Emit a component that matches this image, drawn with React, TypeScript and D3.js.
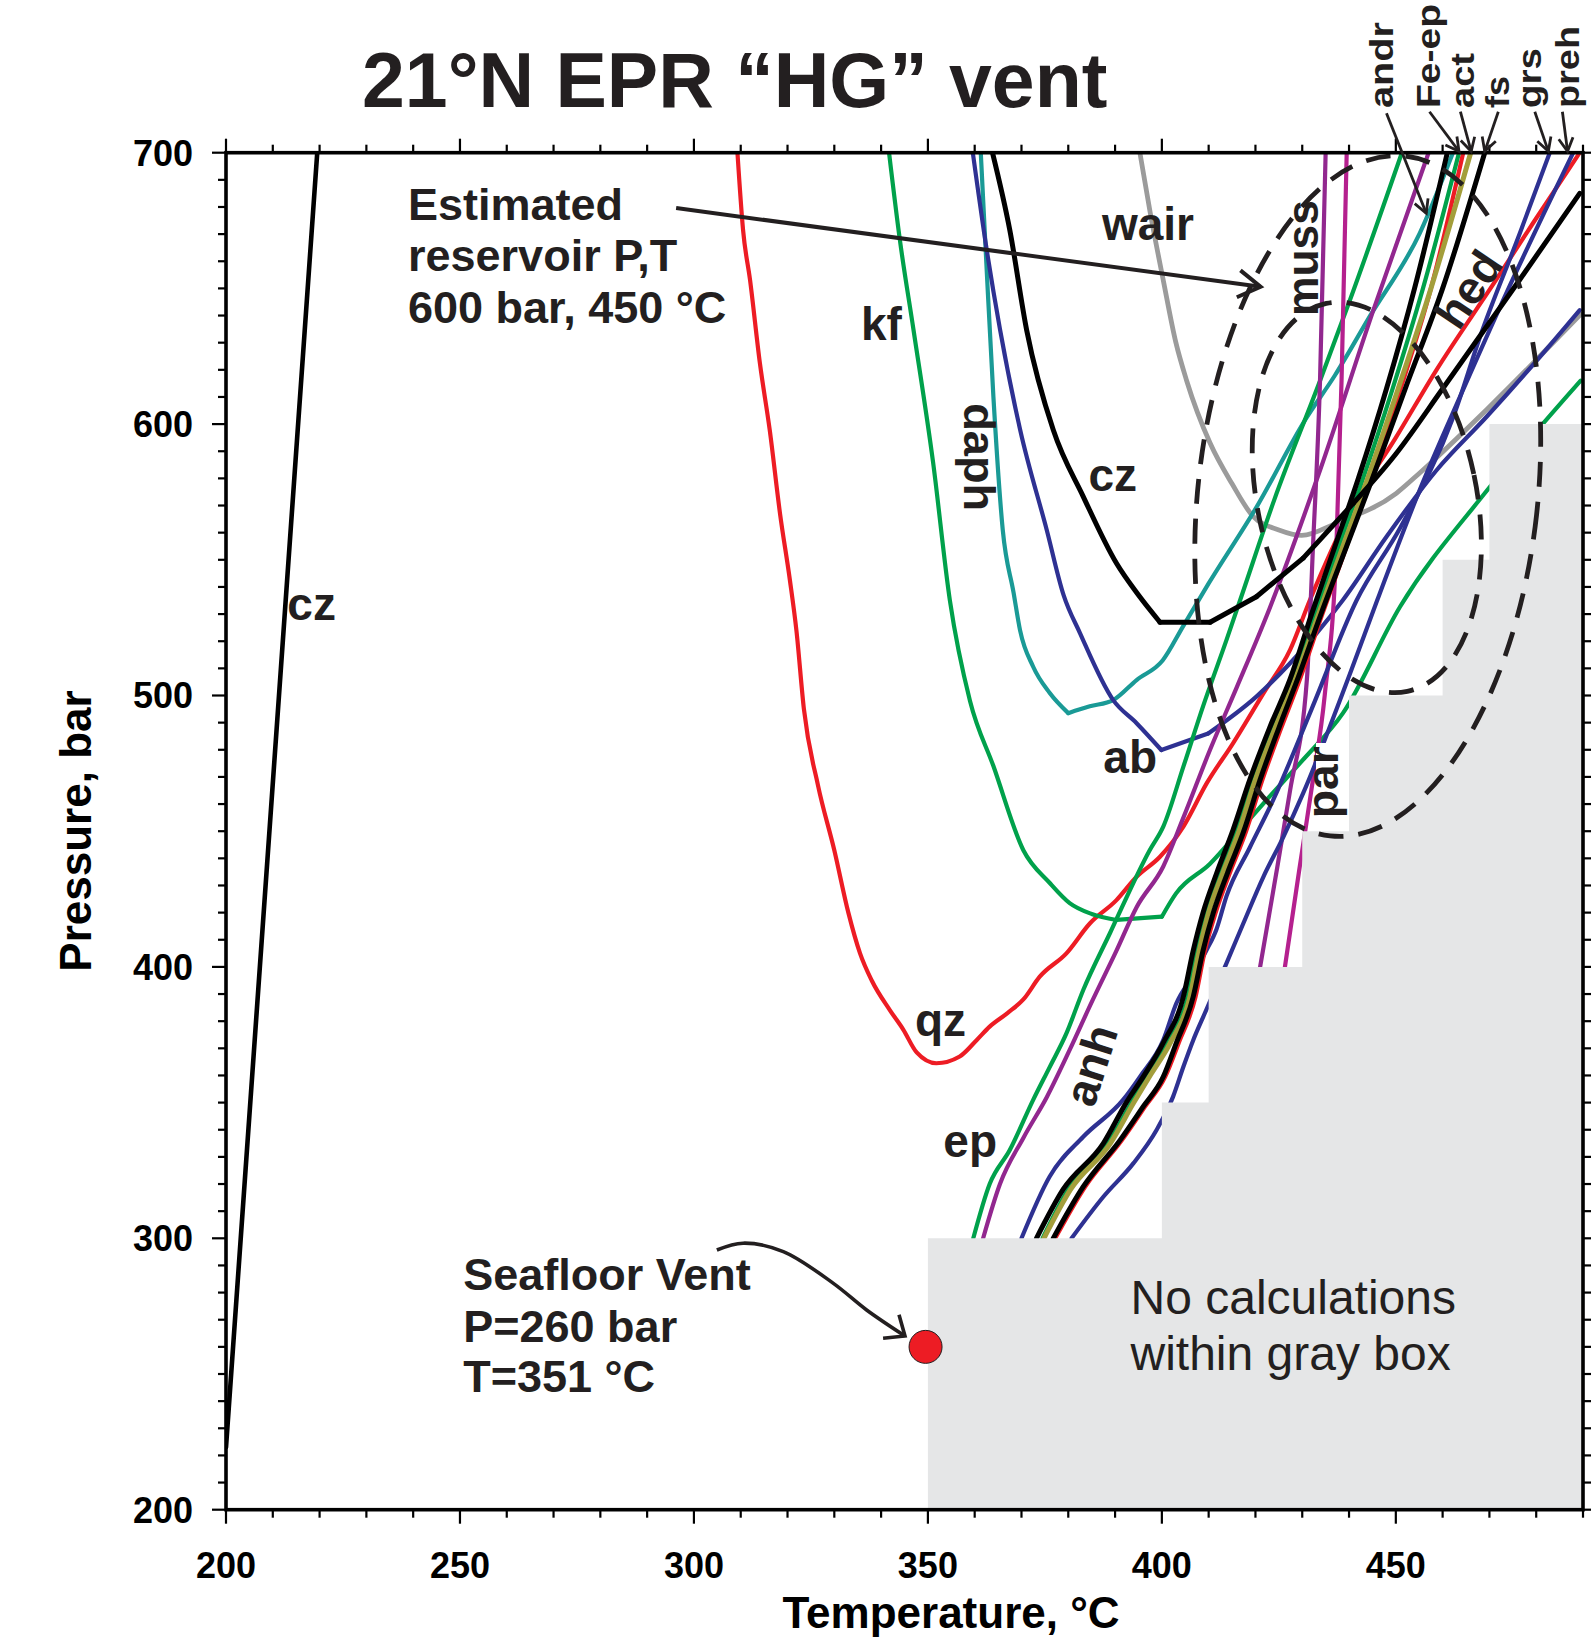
import React from "react";
import * as d3 from "d3";

type Pt = [number, number]; // [temperature °C, pressure bar]

// ---------------- axes ----------------
const T_DOMAIN: [number, number] = [200, 490];
const P_DOMAIN: [number, number] = [200, 700];
const xTickLabels = [200, 250, 300, 350, 400, 450];
const yTickLabels = [200, 300, 400, 500, 600, 700];

// ---------------- curves ----------------
const czLeft: Pt[] = [[200, 223], [219.5, 700]];

const qz: Pt[] = [
  [309.3, 700], [310.5, 671.5], [312, 653], [314.1, 622.4], [316.2, 597.8], [318.4, 567], [320.5, 542.6],
  [321.9, 524], [323.5, 495], [326.5, 467], [330, 443], [333, 420], [335.5, 405], [338, 395], [341.9, 384],
  [344.7, 377], [347.6, 368.5], [351.8, 364.5], [356.8, 367], [360.4, 373], [363.2, 378], [367, 383],
  [370.4, 388], [373.9, 396.4], [379.6, 405], [384.6, 416], [390.3, 424.6], [394.6, 433.2], [399.6, 440.6],
  [404.6, 451.7], [409.6, 467.7], [415.2, 482.4], [421.7, 500.8], [427.4, 516.8], [431.6, 535], [440.8, 569.6],
  [450, 595], [458.7, 620], [471, 652], [479.3, 674], [489.3, 700],
];

const kf: Pt[] = [
  [341.7, 700], [344, 668], [346.9, 635], [351.1, 586], [354.7, 535], [359, 498], [364, 474], [370.4, 443],
  [376, 431], [380.3, 423.5], [385, 419.5], [390.3, 417.3], [400, 418.5], [403, 427], [410.3, 438],
  [416.7, 450.4], [423, 462.7], [430, 476], [438.7, 493.5], [450.9, 532.7], [469, 574.5], [489.5, 616],
];

const daph: Pt[] = [
  [361.3, 700], [362.5, 659], [364, 610], [366, 561], [368.3, 538], [369.7, 524], [372.5, 510.6], [376, 501],
  [380, 493.5], [384.6, 496], [389.6, 498.3], [394.6, 505.7], [400.2, 513], [404.5, 525.4], [410, 541.3],
  [420.3, 569.6], [430.6, 601.5], [437, 618], [444.4, 639.6], [455.1, 670.3], [462.2, 700],
];

const ab: Pt[] = [
  [359.6, 700], [362.5, 665], [365.4, 635], [369.7, 598], [375.4, 561], [379, 537], [382.5, 523], [389.6, 498.3],
  [394.6, 489.8], [399.9, 479.9], [409.9, 486], [420.2, 499.6], [427.4, 511.9], [433.1, 523], [438.7, 535.2],
  [448, 558.5], [458.7, 583], [469.4, 602.7], [480.8, 624.8], [489.3, 642],
];

const czMid: Pt[] = [
  [363.8, 700], [367.5, 671.5], [371.1, 634.7], [376.8, 597.8], [383.2, 573.3], [390.3, 548.7], [395, 537],
  [399.6, 527], [410.3, 527], [420.2, 536.4], [430.2, 550.6], [440.9, 570.8], [450, 589], [460, 613],
  [476.4, 653], [489.3, 685],
];

const wair: Pt[] = [
  [395.3, 700], [397.5, 678], [400.3, 653], [403, 630], [405.3, 616], [410.3, 593], [415, 578], [419.5, 566],
  [425, 561], [429.9, 559], [437.3, 563.5], [450.1, 574.5], [455.1, 582], [469.5, 605.5], [489.5, 640.5],
];

const muss: Pt[] = [[421, 400], [424, 430], [427.4, 465], [431, 506], [432.3, 555], [433.8, 616], [435, 700]];
const par: Pt[] = [[426.3, 400], [429.3, 435], [432.2, 468], [434.8, 500], [437.3, 555], [438.4, 616], [439.5, 700]];

const anh: Pt[] = [
  [361.8, 300], [365.4, 320], [370.4, 337], [375.4, 352], [380.3, 369.4], [385, 387], [390.3, 406],
  [394.6, 422], [400.3, 437], [404.6, 455], [410.3, 480], [416, 503], [423, 532], [433.8, 583], [445, 641],
  [457, 700],
];

const ep: Pt[] = [
  [359.7, 300], [363.2, 320], [367.5, 332.5], [372.5, 351], [376, 363], [379.6, 375.5], [383.2, 391.5],
  [388.9, 412.4], [397.4, 443], [400.3, 451.7], [404.6, 473.8], [408.8, 496], [413.8, 520.4], [416.7, 535],
  [424, 572], [433.8, 616], [440.2, 645.7], [451.3, 700],
];

const andr: Pt[] = [
  [373.2, 300], [378.9, 318], [387.5, 335], [392.4, 350], [396, 359.5], [400.3, 372], [404.6, 389],
  [406.7, 406], [408.8, 420], [411.7, 434.5], [415.2, 450.4], [418.8, 469], [423, 488], [427.4, 506],
  [432, 530], [437, 555], [442, 580], [448, 613], [454, 650], [461, 700],
];

const feEp: Pt[] = [
  [374.5, 300], [380, 318], [388.5, 335], [393.5, 350], [397, 360], [401.3, 372], [405.5, 389], [407.5, 406],
  [409.5, 420], [412.5, 434.5], [416, 450], [419.6, 469], [423.8, 488], [428, 506], [432.8, 530],
  [437.8, 555], [443, 580], [449.3, 613], [455.8, 650], [463.5, 700],
];

const act: Pt[] = [
  [374.8, 300], [380.5, 318], [389, 335], [394, 350], [397.5, 360], [401.8, 372], [406, 389], [408, 406],
  [410, 420], [413, 434.5], [416.5, 450], [420, 469], [424.2, 488], [428.5, 506], [433.5, 530], [438.7, 555],
  [444, 580], [450.5, 613], [457.5, 650], [466, 700],
];

const fs: Pt[] = [
  [376.8, 300], [383.2, 319], [391, 336], [396, 348.5], [400.3, 359.5], [403.1, 372], [406.7, 389],
  [408.8, 406], [411, 420], [414, 434.5], [417.5, 450], [421, 469], [425, 488], [429, 506], [434, 530],
  [439.5, 555], [445, 580], [452, 613], [460, 650], [469, 700],
];

const redSteep: Pt[] = [
  [377.2, 300], [383.6, 319], [391.4, 336], [396.4, 348.5], [400.7, 359.5], [403.6, 372], [407.2, 389],
  [409.2, 406], [411.5, 420], [414.5, 434.5], [418, 450], [421.5, 469], [425.5, 488], [429.5, 506],
  [434.3, 530], [439.5, 555], [444.5, 580], [451, 613], [457.5, 650], [464.4, 700],
];

const grs: Pt[] = [
  [370, 300], [376, 322.7], [383.2, 337.4], [391.7, 351], [395.3, 359.5], [400.3, 373], [403.1, 386.6],
  [406.7, 397], [409.5, 406], [411.7, 414], [413.8, 426], [418.8, 444], [423.8, 461.5], [432, 495],
  [441.6, 535], [451, 562], [462.3, 602.7], [468, 632.2], [476.5, 670.3], [482.9, 700],
];

const preh: Pt[] = [
  [380.7, 300], [387.5, 315.3], [393.9, 327.6], [398.9, 340], [402.4, 352.2], [404.6, 363.2], [406.7, 373],
  [409.2, 383], [413.8, 401.3], [417.4, 416], [421.7, 433.2], [426, 448], [430.2, 464], [440.2, 508],
  [446, 535], [455.1, 575.7], [463.7, 610], [473.6, 648.2], [487.9, 700],
];

// gray "no calculation" region: [T where step starts, top pressure]
const grayBoxSteps: Pt[] = [[350, 300], [400, 350], [410, 400], [430, 450], [440, 500], [460, 550], [470, 600]];
const grayBoxEndT = 490;
const grayBoxBottomP = 200;

const ventPoint: Pt = [349.5, 260];

// dashed ellipses: centre (T,P), semi-axes (°C, bar)
const ellipseBig = { t: 444, p: 573.5, rt: 36.3, rp: 126 };
const ellipseSmall = { t: 443.8, p: 573, rt: 23.4, rp: 73 };

// top labels with arrow: label, tail (T,P), tip (T,P)
const topLabels: { name: string; tail: Pt; tip: Pt }[] = [
  { name: "andr", tail: [448.0, 714.5], tip: [456.5, 677.7] },
  { name: "Fe-ep", tail: [457.2, 715.1], tip: [463.5, 700.5] },
  { name: "act", tail: [463.8, 715.1], tip: [466.1, 700.5] },
  { name: "fs", tail: [471.9, 715.1], tip: [469.0, 700.5] },
  { name: "grs", tail: [479.7, 715.1], tip: [482.6, 700.5] },
  { name: "preh", tail: [485.6, 715.1], tip: [486.7, 700.5] },
];

const reservoirArrow: Pt[] = [[296.2, 679.6], [421.1, 650.6]];
const ventArrow: Pt[] = [[304.9, 295.7], [310.5, 298.2], [319.1, 295.1], [329.8, 283.4], [336.9, 273.6], [345.1, 264.0]];

// ---------------- styles ----------------
const RED = "#ED1C24";
const GREEN = "#00A14B";
const NAVY = "#2E3192";
const TEAL = "#1A9A96";
const PURPLE = "#92278F";
const MAGENTA = "#B5208E";
const OLIVE = "#A39E3B";
const GRAY = "#9B9B9B";
const BLACK = "#000000";
const INK = "#231F20";
const FONT = "'Liberation Sans', Arial, Helvetica, sans-serif";

const series: { data: Pt[]; color: string; width: number; corners: number[] }[] = [
  { data: wair, color: GRAY, width: 4.8, corners: [] },
  { data: qz, color: RED, width: 4.2, corners: [] },
  { data: kf, color: GREEN, width: 4.2, corners: [11, 12] },
  { data: daph, color: TEAL, width: 4.2, corners: [8] },
  { data: ab, color: NAVY, width: 4.2, corners: [9, 10] },
  { data: ep, color: GREEN, width: 4.2, corners: [] },
  { data: anh, color: PURPLE, width: 4.2, corners: [] },
  { data: muss, color: PURPLE, width: 4.2, corners: [] },
  { data: par, color: MAGENTA, width: 4.2, corners: [] },
  { data: grs, color: NAVY, width: 4.2, corners: [] },
  { data: preh, color: NAVY, width: 4.2, corners: [] },
  { data: redSteep, color: RED, width: 4.2, corners: [] },
  { data: feEp, color: GREEN, width: 4.2, corners: [] },
  { data: act, color: OLIVE, width: 5, corners: [] },
  { data: andr, color: BLACK, width: 5, corners: [] },
  { data: fs, color: BLACK, width: 5, corners: [] },
  { data: czMid, color: BLACK, width: 5, corners: [7, 8, 9, 10, 11] },
  { data: czLeft, color: BLACK, width: 4.6, corners: [] },
];

function splitAtCorners(data: Pt[], corners: number[]): Pt[][] {
  const segs: Pt[][] = [];
  let start = 0;
  [...corners, data.length - 1].forEach((c) => {
    segs.push(data.slice(start, c + 1));
    start = c;
  });
  return segs.filter((s) => s.length > 1);
}

function arrowHead(tip: [number, number], from: [number, number], len: number, half: number) {
  const a = Math.atan2(tip[1] - from[1], tip[0] - from[0]);
  const p1 = [tip[0] - len * Math.cos(a - half), tip[1] - len * Math.sin(a - half)];
  const p2 = [tip[0] - len * Math.cos(a + half), tip[1] - len * Math.sin(a + half)];
  return `M${p1[0]},${p1[1]}L${tip[0]},${tip[1]}L${p2[0]},${p2[1]}`;
}

export default function App() {
  const W = 1591;
  const H = 1638;
  const x = d3.scaleLinear().domain(T_DOMAIN).range([226, 1583]);
  const y = d3.scaleLinear().domain(P_DOMAIN).range([1509.7, 152.7]);
  const x0 = x(T_DOMAIN[0]);
  const x1 = x(T_DOMAIN[1]);
  const y0 = y(P_DOMAIN[0]);
  const y1 = y(P_DOMAIN[1]);

  const lin = d3.line<Pt>().x((d) => x(d[0])).y((d) => y(d[1]));
  const mono = d3
    .line<Pt>()
    .x((d) => x(d[0]))
    .y((d) => y(d[1]))
    .curve(d3.curveMonotoneX);
  const smooth = d3
    .line<Pt>()
    .x((d) => x(d[0]))
    .y((d) => y(d[1]))
    .curve(d3.curveCatmullRom.alpha(0.5));

  // gray box outline
  const boxPts: Pt[] = [[grayBoxSteps[0][0], grayBoxBottomP]];
  grayBoxSteps.forEach((s, i) => {
    boxPts.push([s[0], s[1]]);
    const nextT = i < grayBoxSteps.length - 1 ? grayBoxSteps[i + 1][0] : grayBoxEndT;
    boxPts.push([nextT, s[1]]);
  });
  boxPts.push([grayBoxEndT, grayBoxBottomP]);
  const boxPath = lin(boxPts) + "Z";

  const xTicks = d3.range(T_DOMAIN[0], T_DOMAIN[1] + 0.1, 10);
  const yTicks = d3.range(P_DOMAIN[0], P_DOMAIN[1] + 0.1, 10);

  const ell = (e: { t: number; p: number; rt: number; rp: number }, angle: number) => {
    const cx = x(e.t);
    const cy = y(e.p);
    const rx = x(e.t + e.rt) - cx;
    const ry = cy - y(e.p + e.rp);
    return (
      <ellipse
        cx={cx}
        cy={cy}
        rx={rx}
        ry={ry}
        transform={`rotate(${angle} ${cx} ${cy})`}
        fill="none"
        stroke={INK}
        strokeWidth={4.8}
        strokeDasharray="25 15"
      />
    );
  };

  const boldLabel = (txt: string, t: number, p: number, size = 46) => (
    <text x={x(t)} y={y(p)} fontFamily={FONT} fontWeight="bold" fontSize={size} fill={INK}>
      {txt}
    </text>
  );

  const rotLabel = (txt: string, t: number, p: number, angle: number, dy: number, size = 45, len?: number) => (
    <text
      transform={`translate(${x(t)},${y(p)}) rotate(${angle})`}
      textAnchor="middle"
      dy={`${dy}em`}
      fontFamily={FONT}
      fontWeight="bold"
      fontSize={size}
      fill={INK}
      textLength={len}
      lengthAdjust={len ? "spacingAndGlyphs" : undefined}
    >
      {txt}
    </text>
  );

  const topLabelLen: Record<string, number> = { andr: 86, "Fe-ep": 104, act: 55, fs: 32, grs: 60, preh: 82 };
  const topLabelBase: Record<string, number> = { andr: 1393, "Fe-ep": 1440, act: 1474, fs: 1509, grs: 1541, preh: 1579 };

  const ventTip: [number, number] = [x(ventArrow[ventArrow.length - 1][0]), y(ventArrow[ventArrow.length - 1][1])];
  const ventPrev: [number, number] = [x(ventArrow[ventArrow.length - 2][0]), y(ventArrow[ventArrow.length - 2][1])];
  const resTip: [number, number] = [x(reservoirArrow[1][0]), y(reservoirArrow[1][1])];
  const resTail: [number, number] = [x(reservoirArrow[0][0]), y(reservoirArrow[0][1])];

  return (
    <svg
      width={W}
      height={H}
      viewBox={`0 0 ${W} ${H}`}
      style={{ position: "absolute", left: 0, top: 0, background: "#fff" }}
    >
      <defs>
        <clipPath id="plotClip">
          <rect x={x0} y={y1} width={x1 - x0} height={y0 - y1} />
        </clipPath>
      </defs>
      <rect x={0} y={0} width={W} height={H} fill="#fff" />

      {/* title */}
      <text x={362} y={106.5} fontFamily={FONT} fontWeight="bold" fontSize={77} fill={INK}>
        21°N EPR “HG” vent
      </text>

      {/* curves */}
      <g clipPath="url(#plotClip)" fill="none" strokeLinejoin="round" strokeLinecap="round">
        {series.map((s, i) =>
          splitAtCorners(s.data, s.corners).map((seg, j) => (
            <path key={i + "-" + j} d={mono(seg) || ""} stroke={s.color} strokeWidth={s.width} />
          ))
        )}
      </g>

      {/* gray box */}
      <path d={boxPath} fill="#E5E6E7" stroke="none" />

      {/* ellipses */}
      <g clipPath="url(#plotClip)">
        {ell(ellipseBig, 6.3)}
        {ell(ellipseSmall, -11.8)}
      </g>

      {/* axes frame and ticks */}
      <rect x={x0} y={y1} width={x1 - x0} height={y0 - y1} fill="none" stroke={BLACK} strokeWidth={3.6} />
      <g stroke={BLACK} strokeWidth={2.2}>
        {xTicks.map((t) => {
          const major = t % 50 === 0;
          const L = major ? 14 : 8;
          return (
            <g key={"xt" + t}>
              <line x1={x(t)} x2={x(t)} y1={y0} y2={y0 + L} />
              <line x1={x(t)} x2={x(t)} y1={y1} y2={y1 - L} />
            </g>
          );
        })}
        {yTicks.map((p) => {
          const major = p % 100 === 0;
          const L = major ? 14 : 8;
          return (
            <g key={"yt" + p}>
              <line x1={x0} x2={x0 - L} y1={y(p)} y2={y(p)} />
              <line x1={x1} x2={x1 + L} y1={y(p)} y2={y(p)} />
            </g>
          );
        })}
      </g>

      {/* tick labels */}
      <g fontFamily={FONT} fontWeight="bold" fontSize={36} fill={BLACK}>
        {xTickLabels.map((t) => (
          <text key={"xl" + t} x={x(t)} y={1578} textAnchor="middle">
            {t}
          </text>
        ))}
        {yTickLabels.map((p) => (
          <text key={"yl" + p} x={193} y={y(p)} dy="0.36em" textAnchor="end">
            {p}
          </text>
        ))}
      </g>

      {/* axis titles */}
      <text x={951} y={1628} textAnchor="middle" fontFamily={FONT} fontWeight="bold" fontSize={44} fill={BLACK}>
        Temperature, °C
      </text>
      <text
        transform={`translate(91,831) rotate(-90)`}
        textAnchor="middle"
        fontFamily={FONT}
        fontWeight="bold"
        fontSize={44}
        fill={BLACK}
      >
        Pressure, bar
      </text>

      {/* curve labels */}
      {boldLabel("cz", 213.1, 528.0)}
      {boldLabel("qz", 347.25, 374.6)}
      {boldLabel("kf", 335.7, 631.0)}
      {boldLabel("wair", 387.2, 667.8)}
      {boldLabel("cz", 384.3, 575.4)}
      {boldLabel("ab", 387.5, 471.3)}
      {boldLabel("ep", 353.3, 330.1)}
      {rotLabel("daph", 360.1, 587.8, 90, 0.25, 44, 108)}
      {rotLabel("muss", 430.8, 661.2, -90, 0.26, 45, 116)}
      <rect x={1316} y={743} width={33} height={84} fill="#fff" />
      {rotLabel("par", 436.3, 468.0, -90, 0.15, 44, 72)}
      {rotLabel("anh", 384.7, 363.9, -72.5, 0.36, 46)}
      {rotLabel("hed", 465.4, 649.8, -56, 0.36, 46)}

      {/* top labels with arrows */}
      {topLabels.map((l) => {
        const tail: [number, number] = [x(l.tail[0]), y(l.tail[1])];
        const tip: [number, number] = [x(l.tip[0]), y(l.tip[1])];
        return (
          <g key={l.name}>
            <text
              transform={`translate(${topLabelBase[l.name]},108) rotate(-90)`}
              fontFamily={FONT}
              fontWeight="bold"
              fontSize={33}
              fill={INK}
              textLength={topLabelLen[l.name]}
              lengthAdjust="spacingAndGlyphs"
            >
              {l.name}
            </text>
            <line x1={tail[0]} y1={tail[1]} x2={tip[0]} y2={tip[1]} stroke={INK} strokeWidth={2.8} />
            <path d={arrowHead(tip, tail, 15, 0.5)} fill="none" stroke={INK} strokeWidth={2.8} />
          </g>
        );
      })}

      {/* reservoir annotation */}
      <g fontFamily={FONT} fontWeight="bold" fontSize={45} fill={INK}>
        <text x={x(238.9)} y={y(675.2)}>Estimated</text>
        <text x={x(238.9)} y={y(656.4)}>reservoir P,T</text>
        <text x={x(238.9)} y={y(637.4)}>600 bar, 450 °C</text>
      </g>
      <line x1={resTail[0]} y1={resTail[1]} x2={resTip[0]} y2={resTip[1]} stroke={INK} strokeWidth={4} />
      <path d={arrowHead(resTip, resTail, 26, 0.55)} fill="none" stroke={INK} strokeWidth={4} />

      {/* seafloor vent annotation */}
      <g fontFamily={FONT} fontWeight="bold" fontSize={45} fill={INK}>
        <text x={x(250.7)} y={y(280.95)}>Seafloor Vent</text>
        <text x={x(250.7)} y={y(261.9)}>P=260 bar</text>
        <text x={x(250.7)} y={y(243.5)}>T=351 °C</text>
      </g>
      <path d={smooth(ventArrow) || ""} fill="none" stroke={INK} strokeWidth={3.6} />
      <path d={arrowHead(ventTip, ventPrev, 22, 0.7)} fill="none" stroke={INK} strokeWidth={3.6} />
      <circle cx={x(ventPoint[0])} cy={y(ventPoint[1])} r={16.5} fill={RED} stroke={INK} strokeWidth={1} />

      {/* gray box note */}
      <g fontFamily={FONT} fontSize={48} fill={INK}>
        <text x={x(393.3)} y={y(272.1)}>No calculations</text>
        <text x={x(393.3)} y={y(251.3)}>within gray box</text>
      </g>
    </svg>
  );
}
